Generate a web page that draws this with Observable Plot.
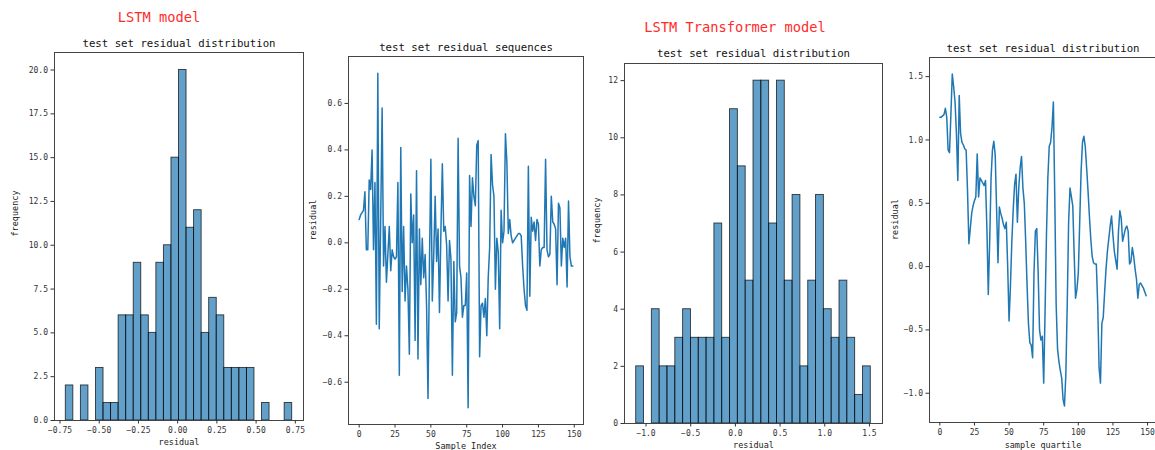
<!DOCTYPE html>
<html>
<head>
<meta charset="utf-8">
<script src="https://cdn.jsdelivr.net/npm/d3@7"></script>
<script src="https://cdn.jsdelivr.net/npm/@observablehq/plot@0.6"></script>
<style>
  html, body { margin: 0; padding: 0; background: #fff; overflow: hidden; }
  #stage { position: relative; width: 1155px; height: 450px; overflow: hidden; }
  #stage svg { position: absolute; top: 0; }
  .model { position: absolute; color: #ff2b2b; font-family: "DejaVu Sans Mono", monospace; font-size: 13.7px; white-space: nowrap; transform: translate(-50%, -50%); }
</style>
</head>
<body>
<div id="stage"></div>
<script>
// ---------- data ----------
// LSTM model: histogram of test-set residuals (30 bins)
const lstmBinRange = [-0.713, 0.730];
const lstmCounts = [2,0,2,0,3,1,1,6,6,9,6,5,9,10,15,20,11,12,5,7,6,3,3,3,3,0,1,0,0,1];

// LSTM model: residual sequence (150 samples)
const lstmResiduals = [
  0.10,0.12,0.13,0.14,0.22,-0.03,-0.03,0.27,0.23,0.40,
  -0.03,0.26,-0.35,0.73,-0.37,0.10,0.58,-0.10,0.07,-0.17,
  -0.05,0.07,-0.12,-0.03,-0.06,-0.07,-0.06,0.26,-0.57,0.41,
  -0.21,0.07,-0.25,-0.10,-0.20,-0.48,0.21,0.00,0.12,-0.42,
  0.31,-0.50,0.06,-0.18,0.02,-0.15,-0.05,-0.27,-0.67,-0.10,
  0.36,-0.25,-0.05,0.20,-0.08,0.06,-0.30,0.05,0.34,0.05,
  0.07,-0.01,-0.25,0.01,-0.07,-0.57,-0.08,-0.34,-0.30,0.45,
  -0.10,-0.15,-0.32,-0.27,-0.27,-0.13,-0.71,0.29,0.07,0.28,
  0.20,0.16,0.42,0.44,-0.49,-0.27,-0.26,-0.32,-0.24,-0.40,
  -0.15,-0.02,0.38,0.25,0.20,-0.20,0.02,-0.04,-0.37,0.14,
  0.00,0.05,0.47,0.35,0.04,0.10,0.03,0.00,0.01,0.02,
  0.03,0.04,0.04,0.03,-0.10,-0.20,-0.27,-0.29,0.33,-0.23,
  0.11,0.05,0.09,0.01,0.10,0.08,-0.10,-0.03,-0.02,-0.02,
  0.36,-0.03,-0.06,-0.05,0.20,0.09,0.08,0.06,-0.18,0.17,
  0.15,-0.10,0.02,-0.02,0.02,-0.19,0.18,-0.06,-0.10,-0.10
];

// LSTM Transformer model: histogram of test-set residuals (30 bins)
const ltBinRange = [-1.11, 1.515];
const ltCounts = [2,0,4,2,2,3,4,3,3,3,7,3,11,9,5,12,12,7,12,5,8,2,5,8,4,3,5,3,1,2];

// LSTM Transformer model: residual sequence (150 samples)
const ltResiduals = [
  1.18,1.18,1.19,1.20,1.25,1.18,0.92,0.90,1.20,1.52,
  1.42,1.30,1.05,0.68,1.35,1.05,0.98,0.96,0.93,0.92,
  0.60,0.18,0.30,0.42,0.48,0.52,0.55,0.89,0.55,0.70,
  0.68,0.66,0.64,0.68,0.30,-0.22,0.20,0.70,0.92,0.99,
  0.88,0.45,0.03,0.47,0.42,0.38,0.33,0.30,0.35,0.00,
  -0.43,-0.15,0.20,0.45,0.65,0.73,0.35,0.62,0.78,0.87,
  0.62,0.50,0.20,-0.15,-0.45,-0.60,-0.62,-0.72,-0.05,0.28,
  0.30,-0.05,-0.50,-0.58,-0.55,-0.92,-0.35,0.25,0.70,0.95,
  0.98,1.10,1.30,0.55,-0.30,-0.65,-0.75,-0.82,-0.88,-1.05,
  -1.10,-0.85,-0.30,0.35,0.62,0.55,0.48,0.10,-0.25,-0.18,
  -0.05,0.35,0.75,0.98,1.03,0.95,0.78,0.60,0.40,0.22,
  0.08,0.03,0.02,0.02,-0.30,-0.80,-0.92,-0.45,-0.40,-0.20,
  -0.02,0.12,0.22,0.32,0.40,0.25,0.12,0.05,-0.02,0.28,
  0.44,0.38,0.20,0.25,0.30,0.32,0.28,0.02,0.04,0.15,
  0.08,-0.02,-0.10,-0.25,-0.14,-0.13,-0.15,-0.17,-0.20,-0.23
];

// tick values
const lstmHistXTicks = [-0.75,-0.5,-0.25,0,0.25,0.5,0.75];
const lstmHistYTicks = [0,2.5,5,7.5,10,12.5,15,17.5,20];
const seqXTicks = [0,25,50,75,100,125,150];
const lstmSeqYTicks = [-0.6,-0.4,-0.2,0,0.2,0.4,0.6];
const ltHistXTicks = [-1,-0.5,0,0.5,1,1.5];
const ltHistYTicks = [0,2,4,6,8,10,12];
const ltSeqYTicks = [-1,-0.5,0,0.5,1,1.5];

// texts
const modelTitles = ["LSTM model", "LSTM Transformer model"];
const panelTitles = ["test set residual distribution", "test set residual sequences", "test set residual distribution", "test set residual distribution"];
const xLabels = ["residual", "Sample Index", "residual", "sample quartile"];
const yLabels = ["frequency", "residual", "frequency", "residual"];

// ---------- drawing ----------
const BLUE = "#1f77b4";
const MONO = "'DejaVu Sans Mono', 'Liberation Mono', monospace";
const f1 = d3.format(".1f"), f2 = d3.format(".2f"), f0 = d3.format("d");

function toBins(range, counts) {
  const w = (range[1] - range[0]) / counts.length;
  return counts.map((c, i) => ({x0: range[0] + i * w, x1: range[0] + (i + 1) * w, count: c}));
}

function decor(p) {
  return [
    Plot.frame({stroke: "#444", strokeWidth: 1}),
    Plot.axisX({ticks: p.xTicks, tickFormat: p.xFmt, tickSize: 3.5, tickPadding: 3, label: null, fontSize: 8, fill: "#333"}),
    Plot.axisY({ticks: p.yTicks, tickFormat: p.yFmt, tickSize: 3.5, tickPadding: 3, label: null, fontSize: 8, fill: "#333"}),
    Plot.text([p.title], {text: d => d, frameAnchor: "top", dy: p.titleDy, lineAnchor: "middle", fontSize: 10.7, fill: "#111"}),
    Plot.text([p.xLabel], {text: d => d, frameAnchor: "bottom", dy: p.xLabelDy, lineAnchor: "middle", fontSize: 8.5, fill: "#222"}),
    Plot.text([p.yLabel], {text: d => d, frameAnchor: "left", dx: p.yLabelDx, rotate: -90, lineAnchor: "middle", fontSize: 8.5, fill: "#222"})
  ];
}

function panel(p, marks) {
  const svg = Plot.plot({
    width: p.width, height: 450,
    marginLeft: p.ml, marginRight: p.mr, marginTop: p.mt, marginBottom: p.mb,
    x: {domain: p.xDomain},
    y: {domain: p.yDomain},
    style: {fontFamily: MONO, fontSize: "8px", background: "transparent", overflow: "visible", color: "#333"},
    marks: [...marks, ...decor(p)]
  });
  svg.style.left = p.left + "px";
  document.getElementById("stage").appendChild(svg);
}

function histMarks(bins) {
  return [Plot.rectY(bins, {x1: "x0", x2: "x1", y: "count", inset: 0, fill: BLUE, fillOpacity: 0.7, stroke: "#000", strokeOpacity: 0.75, strokeWidth: 0.9})];
}
function lineMarks(vals) {
  return [Plot.lineY(vals, {x: (d, i) => i, y: d => d, stroke: BLUE, strokeWidth: 1.5})];
}

panel({left: 0, width: 310, ml: 54, mr: 7, mt: 52, mb: 30,
  xDomain: [-0.785, 0.802], yDomain: [0, 21],
  xTicks: lstmHistXTicks, xFmt: f2, yTicks: lstmHistYTicks, yFmt: f1,
  title: panelTitles[0], titleDy: -9, xLabel: xLabels[0], xLabelDy: 22, yLabel: yLabels[0], yLabelDx: -39
}, histMarks(toBins(lstmBinRange, lstmCounts)));

panel({left: 300, width: 290, ml: 48, mr: 7, mt: 56, mb: 26,
  xDomain: [-7.45, 156.45], yDomain: [-0.782, 0.802],
  xTicks: seqXTicks, xFmt: f0, yTicks: lstmSeqYTicks, yFmt: f1,
  title: panelTitles[1], titleDy: -9, xLabel: xLabels[1], xLabelDy: 22, yLabel: yLabels[1], yLabelDx: -35
}, lineMarks(lstmResiduals));

panel({left: 585, width: 300, ml: 39, mr: 3, mt: 63, mb: 27,
  xDomain: [-1.241, 1.646], yDomain: [0, 12.6],
  xTicks: ltHistXTicks, xFmt: f1, yTicks: ltHistYTicks, yFmt: f0,
  title: panelTitles[2], titleDy: -10, xLabel: xLabels[2], xLabelDy: 22, yLabel: yLabels[2], yLabelDx: -27
}, histMarks(toBins(ltBinRange, ltCounts)));

panel({left: 885, width: 275, ml: 44, mr: 4, mt: 57, mb: 28,
  xDomain: [-7.45, 156.45], yDomain: [-1.231, 1.651],
  xTicks: seqXTicks, xFmt: f0, yTicks: ltSeqYTicks, yFmt: f1,
  title: panelTitles[3], titleDy: -9, xLabel: xLabels[3], xLabelDy: 23, yLabel: yLabels[3], yLabelDx: -34
}, lineMarks(ltResiduals));

const stage = document.getElementById("stage");
[[modelTitles[0], 159, 17], [modelTitles[1], 735, 27]].forEach(([t, x, y]) => {
  const d = document.createElement("div");
  d.className = "model";
  d.textContent = t;
  d.style.left = x + "px";
  d.style.top = y + "px";
  stage.appendChild(d);
});
</script>
</body>
</html>
